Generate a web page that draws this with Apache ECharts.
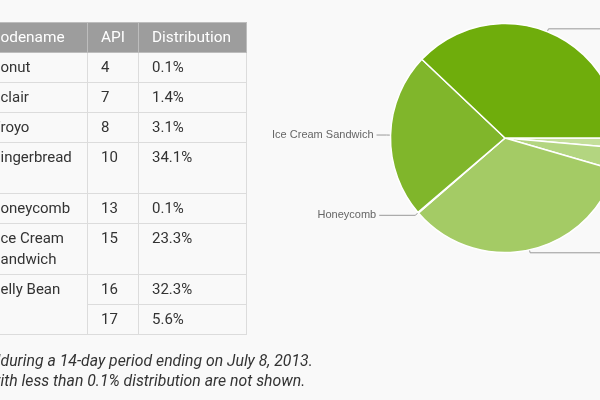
<!DOCTYPE html>
<html>
<head>
<meta charset="utf-8">
<script src="https://cdn.jsdelivr.net/npm/echarts@6/dist/echarts.min.js"></script>
<style>
  html, body { margin: 0; padding: 0; width: 600px; height: 400px; overflow: hidden; background: #f9f9f9; }
  #chart { position: absolute; left: 0; top: 0; width: 800px; height: 400px; }
  #dist { position: absolute; left: -60px; top: 22px; width: 306px; border-collapse: collapse; table-layout: fixed;
          font-family: Roboto, sans-serif; font-size: 15px; color: #333; }
  #dist th, #dist td { border: 1px solid #dcdcdc; padding: 4px 0 4px 13px; line-height: 21px;
          text-align: left; vertical-align: top; white-space: nowrap; overflow: hidden; }
  #dist th { background: #9d9d9d; color: #fff; font-weight: normal; font-size: 15.4px; border-color: #bdbdbd; }
  #dist td.name, #dist th.name { padding-left: 59.5px; }
  .w { position: relative; }
  .p { position: absolute; right: 100%; }
  #note { position: absolute; left: 0.5px; top: 351px; font-family: Roboto, sans-serif; font-style: italic;
          font-size: 15.8px; line-height: 20px; color: #333; white-space: nowrap; }
</style>
</head>
<body>
<div id="chart"></div>
<table id="dist">
  <colgroup><col style="width:147px"><col style="width:51px"><col style="width:108px"></colgroup>
  <thead></thead>
  <tbody></tbody>
</table>
<div id="note"></div>
<script>
// table data
var headers = ['Codename', 'API', 'Distribution'];
var rowNames = ['Donut', 'Eclair', 'Froyo', 'Gingerbread', 'Honeycomb', 'Ice Cream|Sandwich', 'Jelly Bean', ''];
var apiLevels = [4, 7, 8, 10, 13, 15, 16, 17];
var shares = [0.1, 1.4, 3.1, 34.1, 0.1, 23.3, 32.3, 5.6];
var rowLines = [1, 1, 1, 2, 1, 2, 1, 1];

// pie data
var pieNames = ['Eclair', 'Froyo', 'Gingerbread', 'Honeycomb', 'Ice Cream Sandwich', 'Jelly Bean'];
var pieValues = [1.4, 3.1, 34.1, 0.1, 23.3, 37.9];
var pieColors = ['#c4df9b', '#b3d580', '#a4cb65', '#93c14a', '#80b62b', '#6fad0c'];

var noteLines = [['Data collected ', 'during a 14-day period ending on July 8, 2013.'],
                 ['Versions w', 'ith less than 0.1% distribution are not shown.']];

// first letter sits off screen to the left, still real text
function cut(s) {
  return '<span class="w"><span class="p">' + s.charAt(0) + '</span>' + s.slice(1) + '</span>';
}

var head = '<tr>';
headers.forEach(function (h, i) {
  head += '<th' + (i === 0 ? ' class="name"' : '') + '>' + (i === 0 ? cut(h) : h) + '</th>';
});
document.querySelector('#dist thead').innerHTML = head + '</tr>';

var body = '';
for (var i = 0; i < apiLevels.length; i++) {
  var h = rowLines[i] * 21;
  body += '<tr>';
  if (rowNames[i] !== '') {
    var span = (i + 1 < rowNames.length && rowNames[i + 1] === '') ? ' rowspan="2"' : '';
    var txt = rowNames[i].split('|').map(cut).join('<br>');
    body += '<td class="name"' + span + '>' + txt + '</td>';
  }
  body += '<td style="height:' + h + 'px">' + apiLevels[i] + '</td>';
  body += '<td>' + shares[i].toFixed(1) + '%</td></tr>';
}
document.querySelector('#dist tbody').innerHTML = body;

document.getElementById('note').innerHTML = noteLines.map(function (l) {
  return '<div><span class="w"><span class="p">' + l[0] + '</span>' + l[1] + '</span></div>';
}).join('');

var myChart = echarts.init(document.getElementById('chart'));

// leader line lengths per slice
var len1 = [4, 4, 3, 4, 4, 3];
var len2 = [40, 40, 100, 36, 10, 80];

var option = {
  animation: false,
  series: [
    {
      type: 'pie',
      center: [505, 138],
      radius: 114.5,
      startAngle: 0,
      clockwise: true,
      avoidLabelOverlap: false,
      silent: true,
      itemStyle: { borderColor: '#ffffff', borderWidth: 1.5 },
      label: {
        color: '#666',
        fontFamily: 'Arial, "Liberation Sans", sans-serif',
        fontSize: 11,
        distanceToLabelLine: 3
      },
      labelLine: { smooth: false, lineStyle: { color: '#999', width: 1 } },
      data: pieNames.map(function (n, i) {
        return {
          name: n,
          value: pieValues[i],
          itemStyle: { color: pieColors[i] },
          labelLine: { length: len1[i], length2: len2[i] }
        };
      })
    }
  ]
};

myChart.setOption(option);
</script>
</body>
</html>
